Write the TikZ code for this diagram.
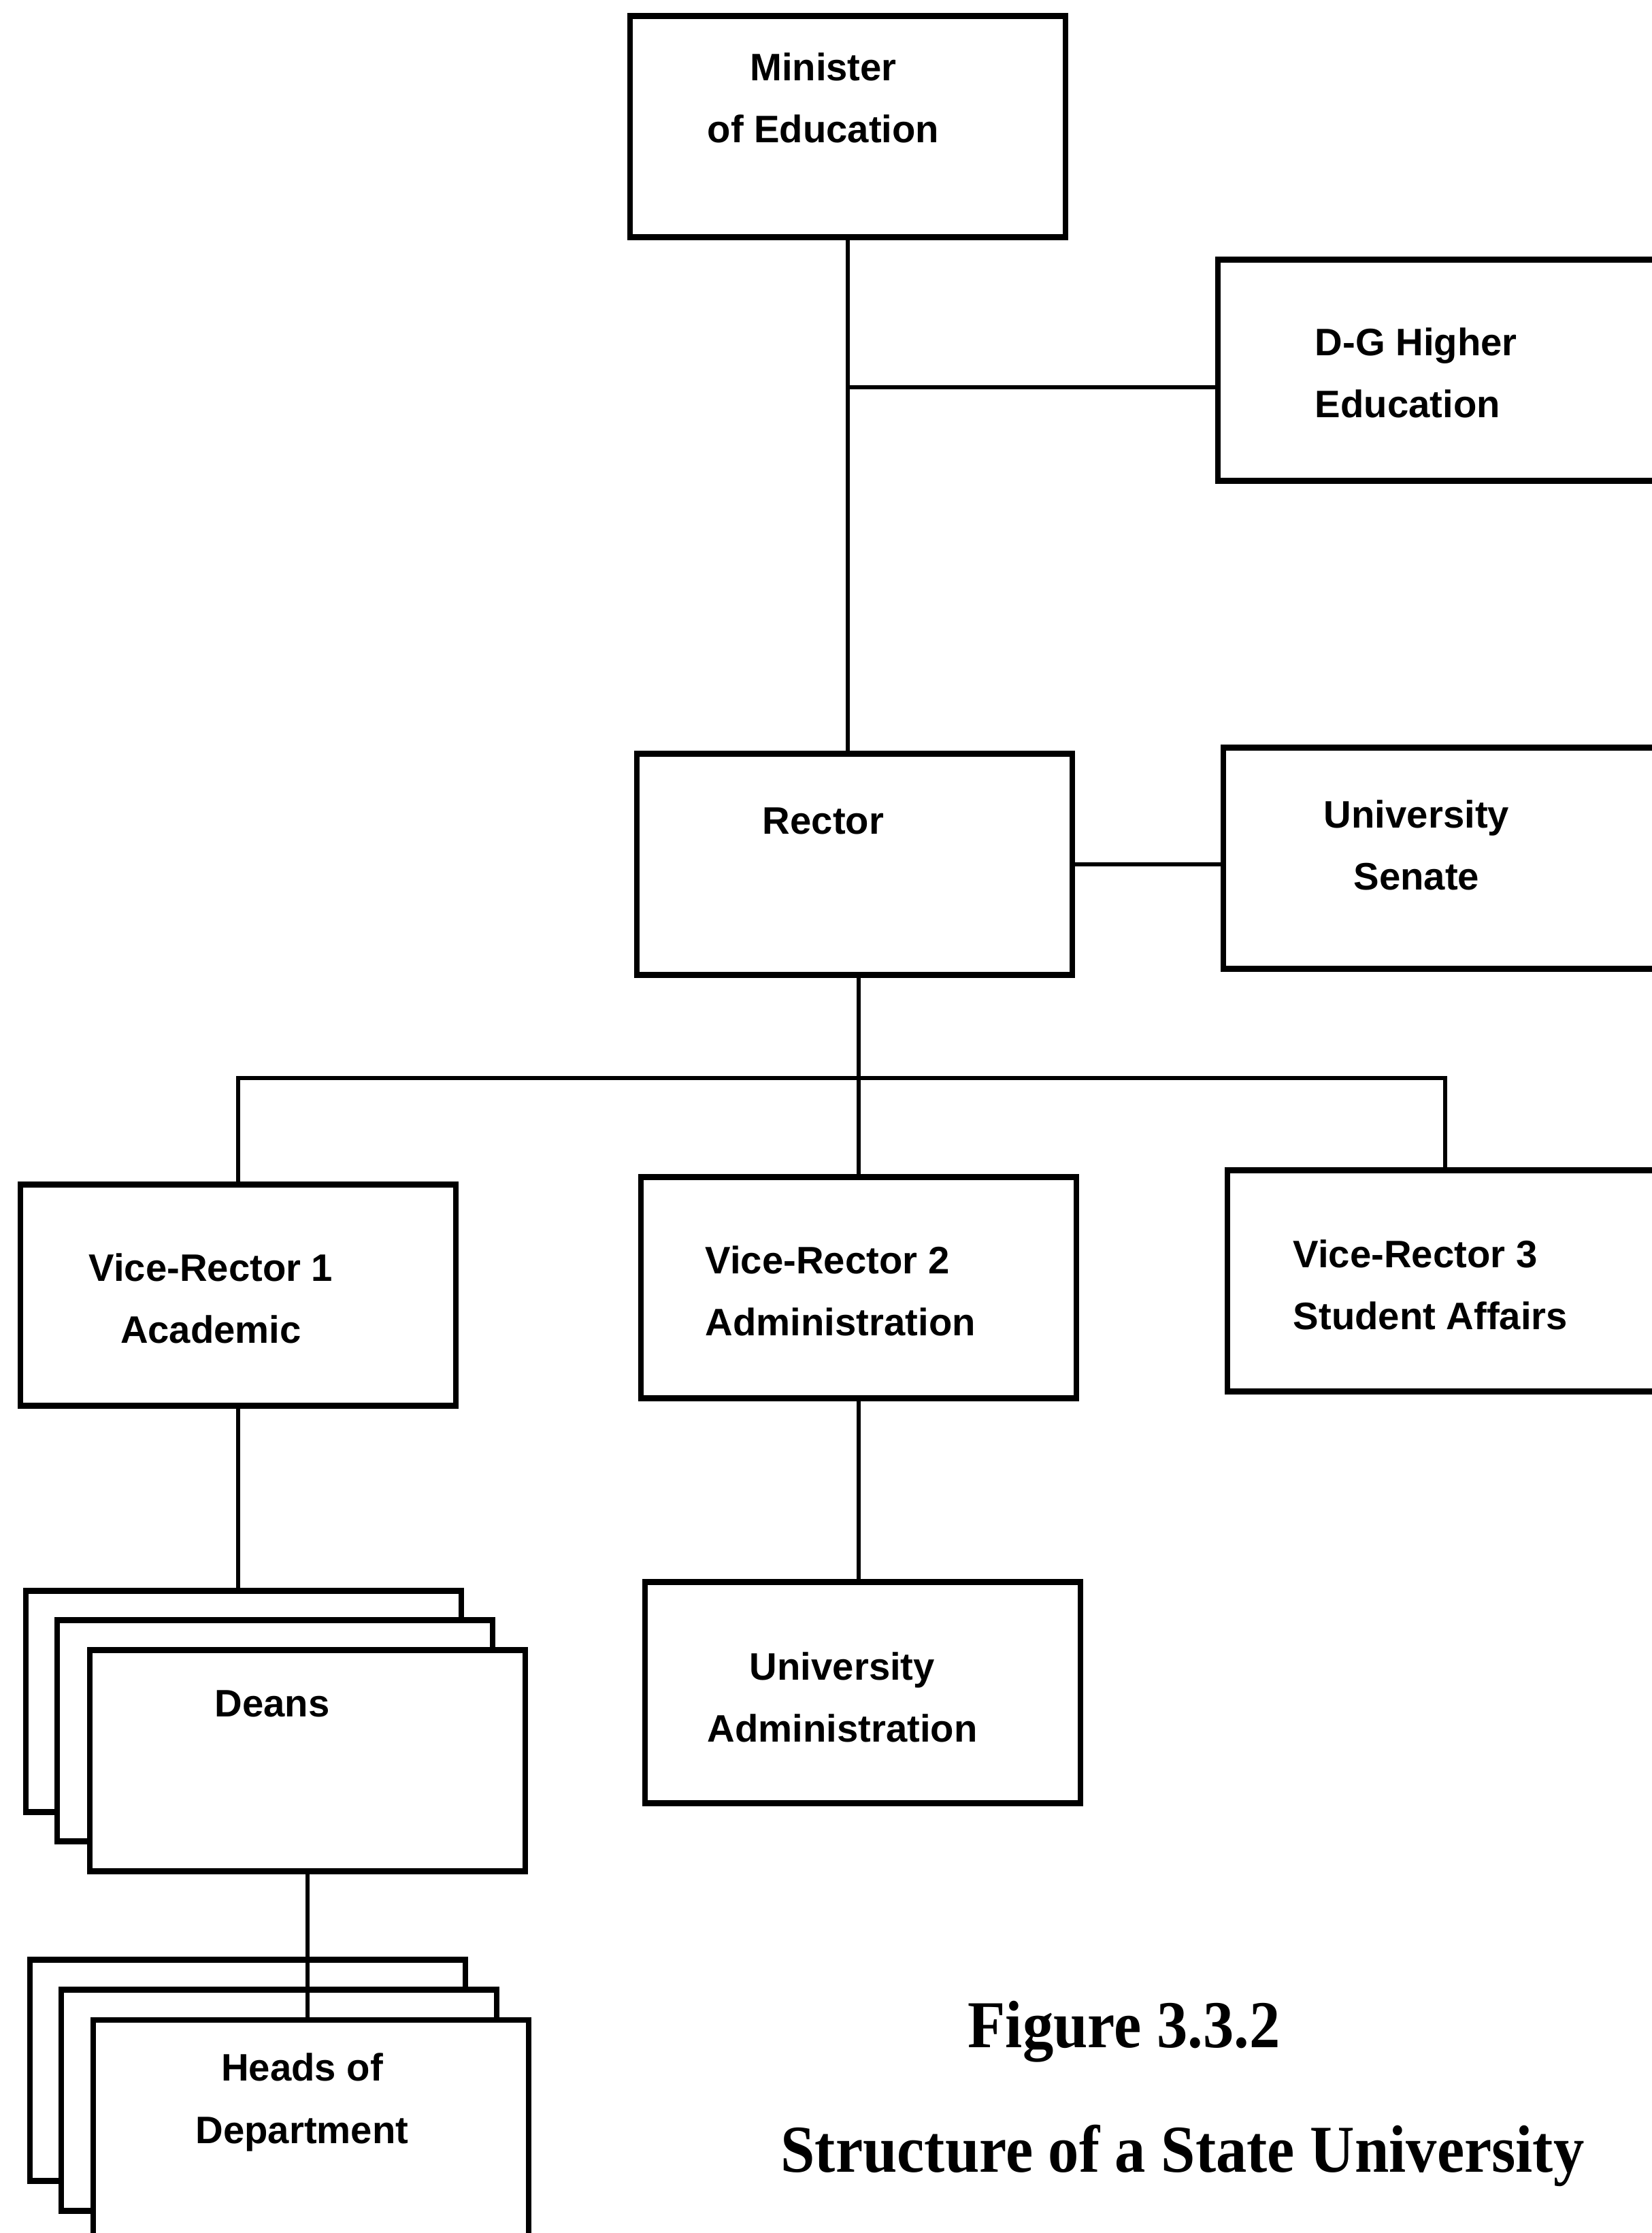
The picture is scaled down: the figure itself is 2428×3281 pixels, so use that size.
\documentclass[tikz,border=0pt]{standalone}
\usepackage{fontspec}
\setmainfont{Liberation Serif}
\newfontfamily\boxfont{Liberation Sans}
\newfontfamily\capfont{Liberation Serif}[FakeStretch=0.92]

\begin{document}
\begin{tikzpicture}[x=0.01cm, y=-0.01cm, line width=1.6pt,
    box/.style={rectangle, draw, fill=white, line width=2.4pt, inner sep=0pt,
                minimum width=6.4cm, minimum height=3.25cm},
    cut/.style={minimum width=7cm},
    txt/.style={font=\boxfont\bfseries\fontsize{16}{26}\selectfont, align=center, inner sep=0pt},
    figcap/.style={font=\capfont\bfseries\fontsize{28}{34}\selectfont, inner sep=0pt}]
  \useasboundingbox (0,0) rectangle (2428,3281);
  \clip (0,0) rectangle (2428,3281);
  \path node (min)    at (1246, 186) [box] {}
        node (dg)     at (2140, 544) [box, cut] {}
        node (rector) at (1256,1270) [box] {}
        node (senate) at (2148,1261) [box, cut] {}
        node (vr1)    at ( 350,1903) [box] {}
        node (vr2)    at (1262,1892) [box] {}
        node (vr3)    at (2154,1882) [box, cut] {}
        node (ua)     at (1268,2487) [box] {}
        node (deansA) at ( 358,2500) [box] {}
        node (deansB) at ( 404,2543) [box] {}
        node (deansC) at ( 452,2587) [box] {}
        node (headsA) at ( 364,3042) [box] {}
        node (headsB) at ( 410,3086) [box] {}
        node (headsC) at ( 457,3138) [box, minimum height=3.4cm] {};
  \path node (minT)    at (1210, 144) [txt] {Minister\\of Education}
        node (dgT)     at (1930, 548) [txt, anchor=west, align=left] {D-G Higher\\Education}
        node (rectorT) at (1210,1206) [txt] {Rector}
        node (senateT) at (2082,1242) [txt] {University\\Senate}
        node (vr1T)    at ( 310,1908) [txt] {Vice-Rector 1\\Academic}
        node (vr2T)    at (1034,1897) [txt, anchor=west, align=left] {Vice-Rector 2\\Administration}
        node (vr3T)    at (1898,1888) [txt, anchor=west, align=left] {Vice-Rector 3\\Student Affairs}
        node (uaT)     at (1238,2494) [txt] {University\\Administration}
        node (deansT)  at ( 400,2503) [txt] {Deans}
        node (headsT)  at ( 444,3089) [txt] {Heads of\\Department}
        node (fig)     at (1652,2985) [figcap] {Figure 3.3.2}
        node (title)   at (1738,3167) [figcap] {Structure of a State University};
  \coordinate (dgj)  at (1790, 569);
  \coordinate (barR) at (2124,1584);
  \draw (min.south) -- (min.south |- rector.north)
        (dgj) -- (dgj -| min.south)
        (rector.east) -- (rector.east -| senate.west)
        (vr2.north) -- (vr2.north |- rector.south)
        (vr1.north) |- (barR) -- (barR |- vr3.north)
        (vr2.south) -- (vr2.south |- ua.north)
        (vr1.south) -- (vr1.south |- deansA.north)
        (deansC.south) -- (deansC.south |- headsC.north);
\end{tikzpicture}
\end{document}
